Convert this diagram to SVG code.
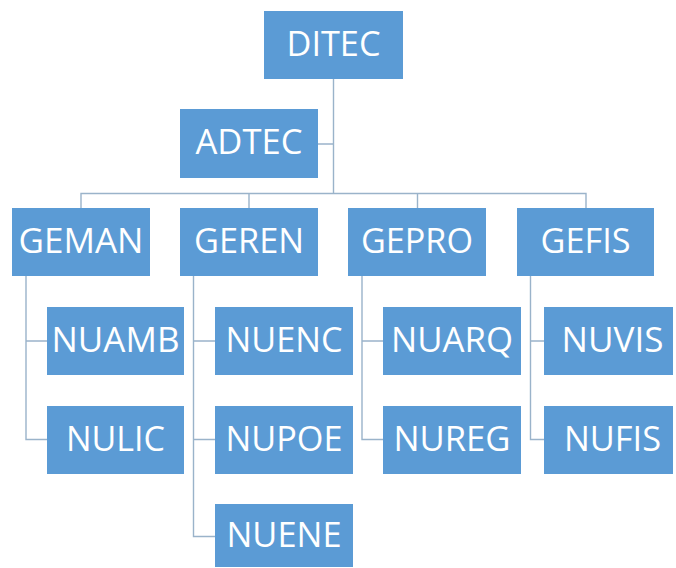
<svg xmlns="http://www.w3.org/2000/svg" width="676" height="568" viewBox="0 0 676 568">
<style>
.box{fill:#5B9BD5}
.lbl{fill:#FFFFFF;font-family:"Open Sans","Liberation Sans",sans-serif;font-size:34px;text-anchor:middle}
.con{fill:none;stroke:#9AB3CA;stroke-width:1.4}
</style>
<rect width="676" height="568" fill="#FFFFFF"/>
<g id="connectors">
<path class="con" d="M333.5,79 V193.5 M318,144 H333.5"/>
<path class="con" d="M81,208 V193.5 H586 V208 M249,193.5 V208 M417.5,193.5 V208"/>
<path class="con" d="M26,276 V439.5 H47 M26,341 H47"/>
<path class="con" d="M193.5,276 V536.5 H215 M193.5,341 H215 M193.5,439.5 H215"/>
<path class="con" d="M362,276 V439.5 H383 M362,341 H383"/>
<path class="con" d="M530.5,276 V439.5 H544 M530.5,341 H544"/>
</g>
<g id="DITEC"><rect class="box" x="264" y="11" width="139" height="68"/><text class="lbl" x="333.5" y="55.5" textLength="94" lengthAdjust="spacingAndGlyphs">DITEC</text></g>
<g id="ADTEC"><rect class="box" x="180" y="109" width="138" height="69"/><text class="lbl" x="249" y="154" textLength="107" lengthAdjust="spacingAndGlyphs">ADTEC</text></g>
<g id="GEMAN"><rect class="box" x="12" y="208" width="138" height="68"/><text class="lbl" x="81" y="252.5" textLength="125" lengthAdjust="spacingAndGlyphs">GEMAN</text></g>
<g id="GEREN"><rect class="box" x="180" y="208" width="138" height="68"/><text class="lbl" x="249" y="252.5" textLength="110" lengthAdjust="spacingAndGlyphs">GEREN</text></g>
<g id="GEPRO"><rect class="box" x="348" y="208" width="138" height="68"/><text class="lbl" x="417" y="252.5" textLength="112" lengthAdjust="spacingAndGlyphs">GEPRO</text></g>
<g id="GEFIS"><rect class="box" x="517" y="208" width="137" height="68"/><text class="lbl" x="585.5" y="252.5" textLength="90" lengthAdjust="spacingAndGlyphs">GEFIS</text></g>
<g id="NUAMB"><rect class="box" x="47" y="307" width="137" height="68"/><text class="lbl" x="115.5" y="351.5" textLength="128" lengthAdjust="spacingAndGlyphs">NUAMB</text></g>
<g id="NULIC"><rect class="box" x="47" y="406" width="137" height="68"/><text class="lbl" x="115.5" y="450.5" textLength="99" lengthAdjust="spacingAndGlyphs">NULIC</text></g>
<g id="NUENC"><rect class="box" x="215" y="307" width="138" height="68"/><text class="lbl" x="284" y="351.5" textLength="117" lengthAdjust="spacingAndGlyphs">NUENC</text></g>
<g id="NUPOE"><rect class="box" x="215" y="406" width="138" height="68"/><text class="lbl" x="284" y="450.5" textLength="117" lengthAdjust="spacingAndGlyphs">NUPOE</text></g>
<g id="NUENE"><rect class="box" x="215" y="504" width="138" height="63"/><text class="lbl" x="284" y="546.5" textLength="115" lengthAdjust="spacingAndGlyphs">NUENE</text></g>
<g id="NUARQ"><rect class="box" x="383" y="307" width="138" height="68"/><text class="lbl" x="452" y="351.5" textLength="122" lengthAdjust="spacingAndGlyphs">NUARQ</text></g>
<g id="NUREG"><rect class="box" x="383" y="406" width="138" height="68"/><text class="lbl" x="452" y="450.5" textLength="117" lengthAdjust="spacingAndGlyphs">NUREG</text></g>
<g id="NUVIS"><rect class="box" x="544" y="307" width="129" height="68"/><text class="lbl" x="612.5" y="351.5" textLength="102" lengthAdjust="spacingAndGlyphs">NUVIS</text></g>
<g id="NUFIS"><rect class="box" x="544" y="406" width="129" height="68"/><text class="lbl" x="612.5" y="450.5" textLength="97" lengthAdjust="spacingAndGlyphs">NUFIS</text></g>
</svg>
